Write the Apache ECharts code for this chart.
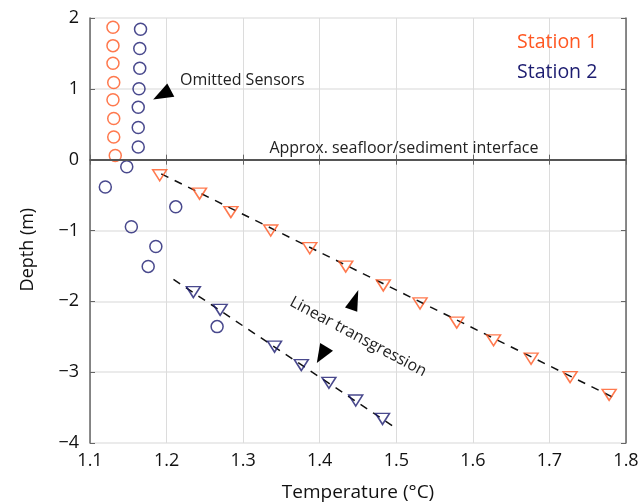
<!DOCTYPE html>
<html>
<head>
<meta charset="utf-8">
<script src="https://cdn.jsdelivr.net/npm/echarts@6/dist/echarts.min.js"></script>
<style>
  html, body { margin: 0; padding: 0; background: #fff; }
</style>
</head>
<body>
<div id="ChartDepth" style="width:641px;height:504px;"></div>
<script>
// station 1, sensors above the seafloor (circles)
let s1CircleTemp = [1.130, 1.130, 1.130, 1.131, 1.130, 1.131, 1.131, 1.133]
let s1CircleDepth = [1.87, 1.61, 1.36, 1.09, 0.845, 0.58, 0.32, 0.06]
// station 2, omitted sensors (circles)
let s2CircleTemp = [1.166, 1.165, 1.165, 1.164, 1.163, 1.163, 1.163, 1.148, 1.120, 1.212, 1.154, 1.186, 1.176, 1.266]
let s2CircleDepth = [1.84, 1.57, 1.29, 1.00, 0.74, 0.455, 0.18, -0.10, -0.385, -0.666, -0.948, -1.225, -1.507, -2.357]
// sediment sensors (triangles)
let s1TriTemp = [1.191, 1.243, 1.284, 1.336, 1.387, 1.434, 1.483, 1.531, 1.579, 1.627, 1.676, 1.727, 1.778]
let s1TriDepth = [-0.22, -0.48, -0.74, -1.00, -1.25, -1.51, -1.775, -2.03, -2.30, -2.55, -2.81, -3.07, -3.32]
let s2TriTemp = [1.235, 1.270, 1.341, 1.376, 1.412, 1.447, 1.482]
let s2TriDepth = [-1.87, -2.12, -2.64, -2.90, -3.15, -3.40, -3.66]
// linear fits (end points)
let s1FitTemp = [1.193, 1.784]
let s1FitDepth = [-0.20, -3.36]
let s2FitTemp = [1.209, 1.501]
let s2FitDepth = [-1.69, -3.80]
// axes
let xTicks = [1.1, 1.2, 1.3, 1.4, 1.5, 1.6, 1.7, 1.8]
let yTicks = [-4, -3, -2, -1, 0, 1, 2]

const orange = '#ff5722'
const navy = '#1c1c70'
const font = 'Open Sans'

function pairs (xs, ys) {
  let out = []
  xs.forEach((v, i) => { out.push([v, ys[i]]) })
  return out
}

let Chart = echarts.init(document.getElementById('ChartDepth'))

let axisLine = { lineStyle: { color: '#666', width: 1.5 } }
let axisTick = { inside: true, length: 5, lineStyle: { color: '#666', width: 1 } }

Chart.setOption({
  animation: false,
  textStyle: { fontFamily: font },
  grid: { left: 90, right: 15, top: 18, bottom: 61, containLabel: false, outerBoundsMode: 'none' },
  xAxis: [
    {
      type: 'value',
      min: xTicks[0],
      max: xTicks[xTicks.length - 1],
      interval: 0.1,
      position: 'bottom',
      name: 'Temperature (°C)',
      nameLocation: 'middle',
      nameGap: 40,
      nameTextStyle: { color: '#111', fontSize: 19, fontFamily: font },
      axisLine: axisLine,
      axisTick: axisTick,
      axisLabel: {
        color: '#111', fontSize: 18, margin: 9,
        formatter: (v) => v.toFixed(1)
      },
      splitLine: { show: true, lineStyle: { color: '#dcdcdc', width: 1 } }
    },
    {
      type: 'value',
      min: xTicks[0],
      max: xTicks[xTicks.length - 1],
      interval: 0.1,
      position: 'top',
      axisLine: axisLine,
      axisTick: axisTick,
      axisLabel: { show: false },
      splitLine: { show: false }
    }
  ],
  yAxis: [
    {
      type: 'value',
      min: yTicks[0],
      max: yTicks[yTicks.length - 1],
      interval: 1,
      position: 'left',
      axisLine: axisLine,
      axisTick: axisTick,
      axisLabel: {
        color: '#111', fontSize: 18, margin: 11,
        formatter: (v) => v < 0 ? '\u2212' + Math.abs(v) : String(v)
      },
      splitLine: { show: true, lineStyle: { color: '#e4e4e4', width: 1.5 } }
    },
    {
      type: 'value',
      min: yTicks[0],
      max: yTicks[yTicks.length - 1],
      interval: 1,
      position: 'right',
      axisLine: axisLine,
      axisTick: axisTick,
      axisLabel: { show: false },
      splitLine: { show: false }
    }
  ],
  series: [
    {
      name: 'seafloor',
      type: 'line',
      data: [],
      silent: true,
      markLine: {
        silent: true,
        symbol: 'none',
        label: { show: false },
        lineStyle: { color: '#555', width: 2, type: 'solid' },
        data: [{ yAxis: 0 }]
      },
      markPoint: {
        silent: true,
        itemStyle: { color: '#000' },
        label: { show: false },
        data: [
          { coord: [1.194, 0.914], symbol: 'triangle', symbolSize: [15, 20], symbolRotate: 118 },
          { coord: [1.4457, -1.978], symbol: 'triangle', symbolSize: [13, 21], symbolRotate: -20 },
          { coord: [1.4026, -2.757], symbol: 'triangle', symbolSize: [15, 19], symbolRotate: 149 }
        ]
      }
    },
    {
      name: 'Station 1 fit',
      type: 'line',
      showSymbol: false,
      symbol: 'none',
      data: pairs(s1FitTemp, s1FitDepth),
      lineStyle: { color: '#111', width: 1.5, type: [8, 7] },
      z: 3
    },
    {
      name: 'Station 2 fit',
      type: 'line',
      showSymbol: false,
      symbol: 'none',
      data: pairs(s2FitTemp, s2FitDepth),
      lineStyle: { color: '#111', width: 1.5, type: [8, 7] },
      z: 3
    },
    {
      name: 'Station 1',
      type: 'scatter',
      symbol: 'circle',
      symbolSize: 12,
      data: pairs(s1CircleTemp, s1CircleDepth),
      itemStyle: { color: 'rgba(0,0,0,0)', borderColor: orange, borderWidth: 1.5 },
      z: 4
    },
    {
      name: 'Station 2',
      type: 'scatter',
      symbol: 'circle',
      symbolSize: 12,
      data: pairs(s2CircleTemp, s2CircleDepth),
      itemStyle: { color: 'rgba(0,0,0,0)', borderColor: navy, borderWidth: 1.5 },
      z: 4
    },
    {
      name: 'Station 1',
      type: 'scatter',
      symbol: 'triangle',
      symbolRotate: 180,
      symbolSize: [14, 11],
      data: pairs(s1TriTemp, s1TriDepth),
      itemStyle: { color: 'rgba(0,0,0,0)', borderColor: orange, borderWidth: 1.5 },
      z: 4
    },
    {
      name: 'Station 2',
      type: 'scatter',
      symbol: 'triangle',
      symbolRotate: 180,
      symbolSize: [14, 11],
      data: pairs(s2TriTemp, s2TriDepth),
      itemStyle: { color: 'rgba(0,0,0,0)', borderColor: navy, borderWidth: 1.5 },
      z: 4
    }
  ]
})

// annotations placed in data space
let pOmit = Chart.convertToPixel({ gridIndex: 0 }, [1.2175, 1.125])
let pFloor = Chart.convertToPixel({ gridIndex: 0 }, [1.510, 0.165])
let pLin = Chart.convertToPixel({ gridIndex: 0 }, [1.450, -2.50])
let pS1 = Chart.convertToPixel({ gridIndex: 0 }, [1.6577, 1.652])
let pS2 = Chart.convertToPixel({ gridIndex: 0 }, [1.6577, 1.234])
let pDepth = Chart.convertToPixel({ gridIndex: 0 }, [1.1, -1.27])

Chart.setOption({
  graphic: [
    {
      type: 'text', x: pOmit[0], y: pOmit[1], z: 10,
      style: { text: 'Omitted Sensors', fill: '#222', font: '16px "Open Sans"', textAlign: 'left', textVerticalAlign: 'middle' }
    },
    {
      type: 'text', x: pFloor[0], y: pFloor[1], z: 10,
      style: { text: 'Approx. seafloor/sediment interface', fill: '#222', font: '16px "Open Sans"', textAlign: 'center', textVerticalAlign: 'middle' }
    },
    {
      type: 'text', x: pLin[0], y: pLin[1], z: 10, rotation: -28 * Math.PI / 180,
      style: { text: 'Linear transgression', fill: '#222', font: '16px "Open Sans"', textAlign: 'center', textVerticalAlign: 'middle' }
    },
    {
      type: 'text', x: pS1[0], y: pS1[1], z: 10,
      style: { text: 'Station 1', fill: orange, font: '19.5px "Open Sans"', textAlign: 'left', textVerticalAlign: 'middle' }
    },
    {
      type: 'text', x: pS2[0], y: pS2[1], z: 10,
      style: { text: 'Station 2', fill: navy, font: '19.5px "Open Sans"', textAlign: 'left', textVerticalAlign: 'middle' }
    },
    {
      type: 'text', x: pDepth[0] - 62, y: pDepth[1], z: 10, rotation: Math.PI / 2,
      style: { text: 'Depth (m)', fill: '#111', font: '18px "Open Sans"', textAlign: 'center', textVerticalAlign: 'middle' }
    }
  ]
})
</script>
</body>
</html>
